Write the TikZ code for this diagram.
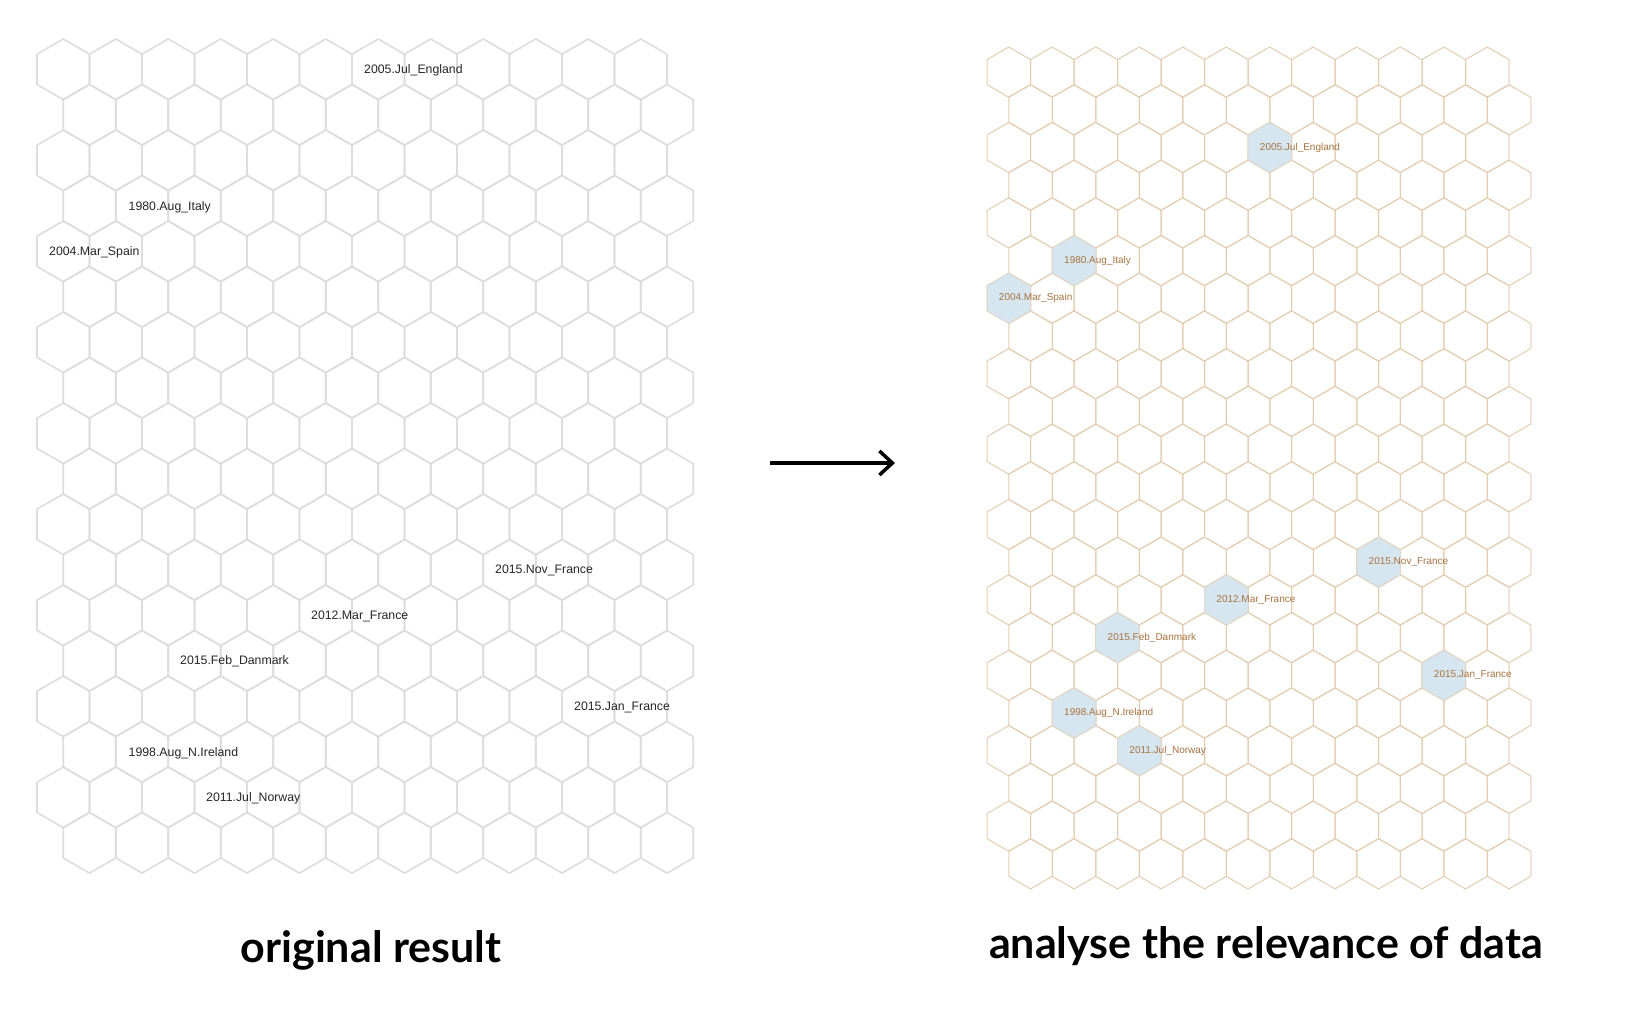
\documentclass[tikz,border=0pt]{standalone}
\usepackage{fontspec}
\setmainfont{Liberation Sans}
\newfontfamily\titlefont{Lato}
\usetikzlibrary{arrows.meta}
\definecolor{lgray}{HTML}{DDDDDD}
\definecolor{tan}{HTML}{E3CDB0}
\definecolor{hl}{HTML}{D6E6F0}
\definecolor{brn}{HTML}{A8733F}
\newcommand{\myhex}[4]{\draw[#4] (#1,#2) +(30:#3) -- +(90:#3) -- +(150:#3) -- +(210:#3) -- +(270:#3) -- +(330:#3) -- cycle;}
\tikzset{
 lhex/.style={draw=lgray,line width=1.6pt,line join=round},
 rhex/.style={draw=tan,line width=1pt,line join=round},
 hhex/.style={fill=hl,draw=tan!60!hl,line width=1pt},
 llab/.style={anchor=west,inner sep=0pt,font=\fontsize{12.3}{14}\selectfont,text=black!85},
 rlab/.style={anchor=west,inner sep=0pt,font=\fontsize{10}{12}\selectfont,text=brn},
 ttl/.style={font=\titlefont\bfseries\fontsize{43}{50}\selectfont}
}
\begin{document}
\begin{tikzpicture}[x=1pt,y=-1pt]
\useasboundingbox[fill=white] (0,0) rectangle (1630,1024);
% left grid
\foreach \i in {0,...,17}{\foreach \j in {0,...,11}{
 \pgfmathsetmacro{\cx}{63.25+52.5*\j+26.25*mod(\i,2)}
 \pgfmathsetmacro{\cy}{69.3+45.5*\i}
 \myhex{\cx}{\cy}{30.3}{lhex}
}}
% right grid
\foreach \i in {0,...,21}{\foreach \j in {0,...,11}{
 \pgfmathsetmacro{\cx}{1008.75+43.5*\j+21.75*mod(\i,2)}
 \pgfmathsetmacro{\cy}{72.1+37.7*\i}
 \myhex{\cx}{\cy}{25.1}{rhex}
}}
% highlighted cells and labels
\foreach \i/\j/\t/\n in {2/6/2005.Jul\_England/ra,5/1/1980.Aug\_Italy/rb,6/0/2004.Mar\_Spain/rc,13/8/2015.Nov\_France/rd,14/5/2012.Mar\_France/re,15/2/2015.Feb\_Danmark/rf,16/10/2015.Jan\_France/rg,17/1/1998.Aug\_N.Ireland/rh,18/3/2011.Jul\_Norway/ri}{
 \pgfmathsetmacro{\cx}{1008.75+43.5*\j+21.75*mod(\i,2)}
 \pgfmathsetmacro{\cy}{72.1+37.7*\i}
 \myhex{\cx}{\cy}{25.1}{hhex}
 \node[rlab] (\n) at (\cx-10,\cy) {\t};
}
% left labels
\node[llab] (la) at (364,70) {2005.Jul\_England};
\node[llab] (lb) at (128.5,207) {1980.Aug\_Italy};
\node[llab] (lc) at (49,252) {2004.Mar\_Spain};
\node[llab] (ld) at (495,570) {2015.Nov\_France};
\node[llab] (le) at (311,616) {2012.Mar\_France};
\node[llab] (lf) at (180,661) {2015.Feb\_Danmark};
\node[llab] (lg) at (574,707) {2015.Jan\_France};
\node[llab] (lh) at (128.5,753) {1998.Aug\_N.Ireland};
\node[llab] (li) at (206,798) {2011.Jul\_Norway};
% arrow
\coordinate (as) at (770,463);
\coordinate (ae) at (895,463);
\draw[line width=3.5pt,-{Straight Barb[length=13pt,width=24pt]}] (as) -- (ae);
% titles
\node[ttl] (t1) at (371,950) {original result};
\node[ttl] (t2) at (1266,946) {analyse the relevance of data};
\end{tikzpicture}
\end{document}
